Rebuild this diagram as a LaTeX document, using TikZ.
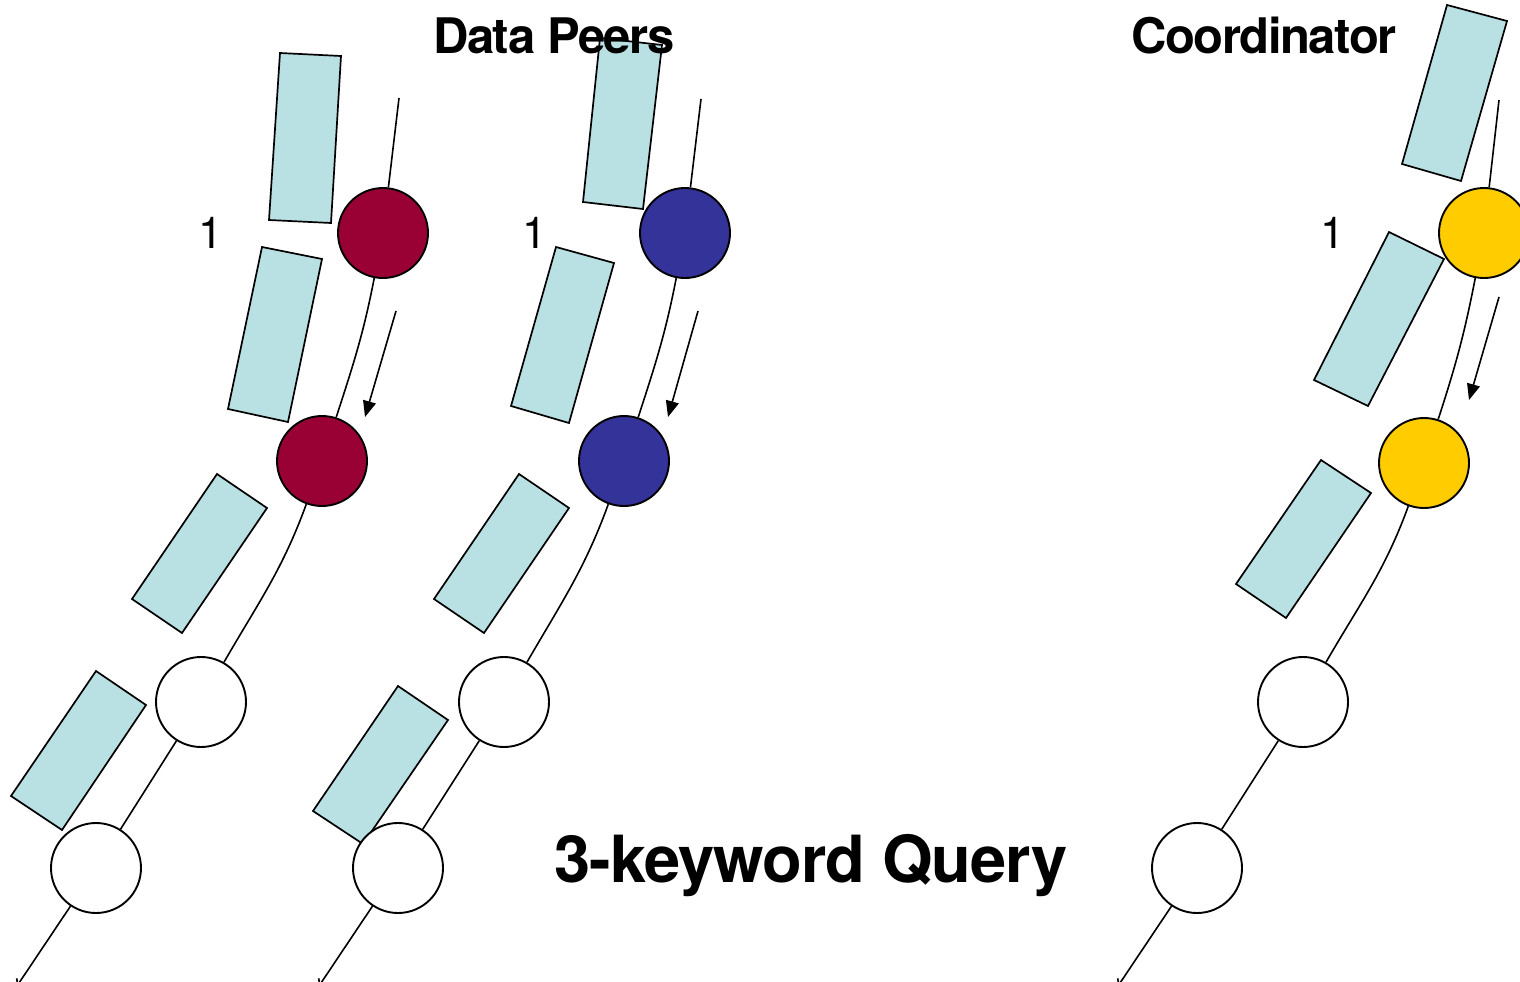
\documentclass[tikz,border=0pt]{standalone}
\usepackage{fontspec}
\setmainfont{TeX Gyre Heros}
\usetikzlibrary{arrows.meta}
\definecolor{rectfill}{HTML}{B9E0E3}
\definecolor{redfill}{HTML}{990033}
\definecolor{bluefill}{HTML}{333399}
\definecolor{yellowfill}{HTML}{FFCC00}
\tikzset{
  peer/.style={circle, draw=black, line width=1.9pt, minimum size=90pt, inner sep=0pt, fill=white},
  keybox/.style={draw=black, line width=1.7pt, fill=rectfill},
  link/.style={line width=1.6pt},
  flow/.style={line width=1.6pt, -{Triangle[length=16pt,width=13pt]}},
  tail/.style={line width=1.6pt, -{Straight Barb[length=5pt,width=9pt]}},
  numlabel/.style={anchor=base, inner sep=0pt, font=\fontsize{44}{50}\selectfont},
  title/.style={anchor=base, inner sep=0pt, font=\fontsize{49}{56}\selectfont\bfseries\addfontfeature{LetterSpace=-3}},
  bigtitle/.style={anchor=base, inner sep=0pt, font=\fontsize{65}{72}\selectfont\bfseries\addfontfeature{LetterSpace=-1.5}}
}
\begin{document}
\begin{tikzpicture}[x=1pt,y=-1pt]
\useasboundingbox (0,0) rectangle (1520,982);
\clip (0,0) rectangle (1520,982);

% ---------- key rectangles ----------
% red chain
\draw[keybox] (280,53) -- (341,56) -- (331,223) -- (269,220) -- cycle;
\draw[keybox] (262,247) -- (322,259) -- (288,422) -- (228,409) -- cycle;
\draw[keybox] (217,474) -- (267,508) -- (182,633) -- (132,599) -- cycle;
\draw[keybox] (96,671) -- (146,705) -- (62,830) -- (11,796) -- cycle;
% blue chain
\draw[keybox] (600,38) -- (662,45) -- (643,209) -- (583,202) -- cycle;
\draw[keybox] (556,247) -- (614,263) -- (569,423) -- (511,406) -- cycle;
\draw[keybox] (519,474) -- (569,508) -- (484,633) -- (434,599) -- cycle;
\draw[keybox] (398,686) -- (448,720) -- (363,844) -- (313,811) -- cycle;
% yellow chain
\draw[keybox] (1447,5) -- (1507,21) -- (1461,181) -- (1402,164) -- cycle;
\draw[keybox] (1389,232) -- (1444,259) -- (1368,406) -- (1314,380) -- cycle;
\draw[keybox] (1321,460) -- (1371,493) -- (1286,618) -- (1236,584) -- cycle;

% ---------- nodes ----------
\node[peer, fill=redfill] (a1) at (383,233) {};
\node[peer, fill=redfill] (a2) at (322,461) {};
\node[peer] (a3) at (201,702) {};
\node[peer] (a4) at (96,868) {};
\coordinate (at) at (399,98);
\coordinate (ae) at (17,986);
\coordinate (as) at (396,311);
\coordinate (af) at (365,417);

\node[peer, fill=bluefill] (b1) at (685,233) {};
\node[peer, fill=bluefill] (b2) at (624,461) {};
\node[peer] (b3) at (504,702) {};
\node[peer] (b4) at (398,868) {};
\coordinate (bt) at (701,99);
\coordinate (be) at (319,986);
\coordinate (bs) at (698,311);
\coordinate (bf) at (668,417);

\node[peer, fill=yellowfill] (c1) at (1484,233) {};
\node[peer, fill=yellowfill] (c2) at (1424,463) {};
\node[peer] (c3) at (1303,702) {};
\node[peer] (c4) at (1197,868) {};
\coordinate (ct) at (1499,100);
\coordinate (ce) at (1118,986);
\coordinate (cs) at (1499,297);
\coordinate (cf) at (1469,400);

% ---------- connectors ----------
\foreach \p in {a,b,c}{
  \draw[link] (\p t) -- (\p 1);
  \draw[link] (\p 1) to[out=259,in=72] (\p 2);
  \draw[link] (\p 2) to[out=250,in=60] (\p 3);
  \draw[link] (\p 3) -- (\p 4);
  \draw[tail] (\p 4) -- (\p e);
  \draw[flow] (\p s) -- (\p f);
}

% ---------- labels ----------
\node[numlabel] (l1) at (211,248) {1};
\node[numlabel] (l2) at (535,248) {1};
\node[numlabel] (l3) at (1333,248) {1};

\node[title] (t1) at (554,54) {Data Peers};
\node[title] (t2) at (1264,54) {Coordinator};
\node[bigtitle] (t3) at (811,882) {3-keyword Query};
\end{tikzpicture}
\end{document}
